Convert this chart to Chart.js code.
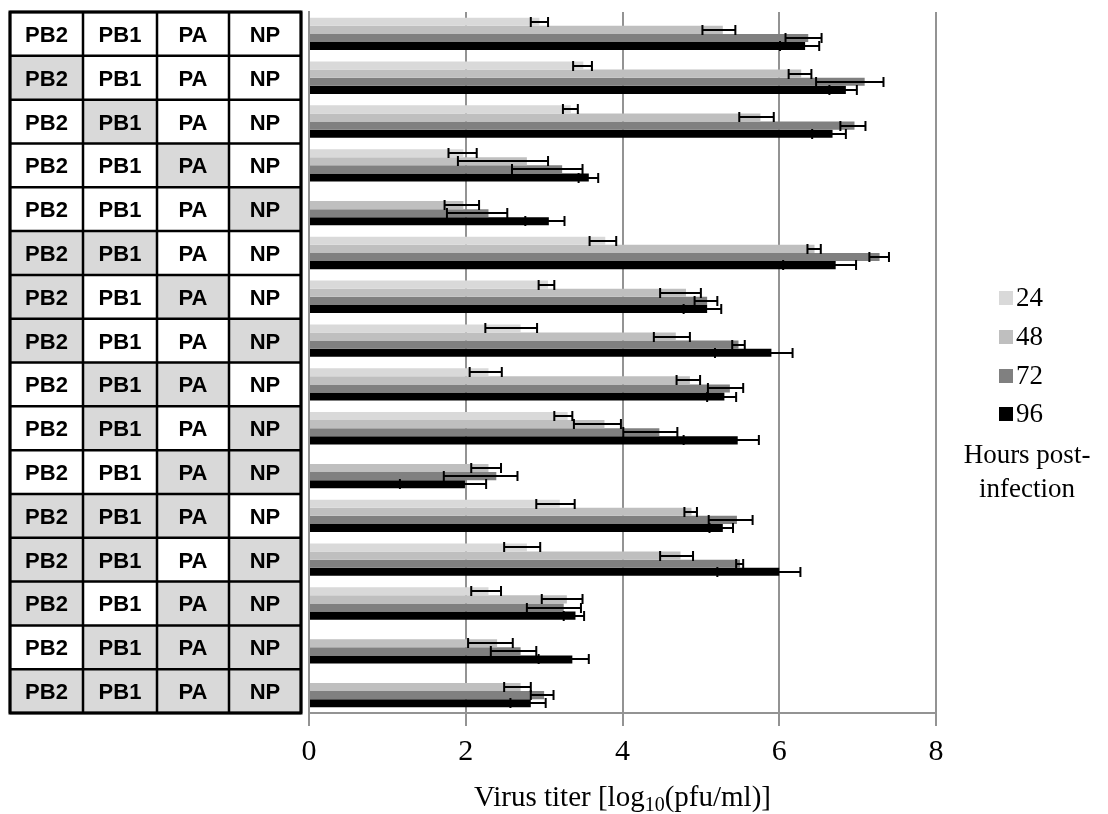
<!DOCTYPE html>
<html lang="en">
<head>
<meta charset="utf-8">
<title>Virus titer</title>
<script src="https://cdn.jsdelivr.net/npm/chart.js@4.4.0/dist/chart.umd.min.js"></script>
<style>
  html, body { margin: 0; padding: 0; background: #fff; }
</style>
</head>
<body>
<canvas id="titre" width="1108" height="814"></canvas>

<script>
    // segments of each row, 1 = shaded cell (PB2, PB1, PA, NP)
    var segments = ['PB2', 'PB1', 'PA', 'NP'];
    var shading = [
        [0, 0, 0, 0],
        [1, 0, 0, 0],
        [0, 1, 0, 0],
        [0, 0, 1, 0],
        [0, 0, 0, 1],
        [1, 1, 0, 0],
        [1, 0, 1, 0],
        [1, 0, 0, 1],
        [0, 1, 1, 0],
        [0, 1, 0, 1],
        [0, 0, 1, 1],
        [1, 1, 1, 0],
        [1, 1, 0, 1],
        [1, 0, 1, 1],
        [0, 1, 1, 1],
        [1, 1, 1, 1]
    ];
    var hours = ['24', '48', '72', '96'];
    var xTicks = [0, 2, 4, 6, 8];

    // titres log10(pfu/ml), one value per row
    var val24 = [2.94, 3.50, 3.34, 1.97, null, 3.78, 3.05, 2.70, 2.29, 3.30, null, 3.20, 2.78, 2.29, null, null];
    var lo24  = [2.83, 3.37, 3.24, 1.78, null, 3.58, 2.93, 2.25, 2.05, 3.13, null, 2.90, 2.49, 2.07, null, null];
    var hi24  = [3.05, 3.61, 3.43, 2.14, null, 3.92, 3.13, 2.91, 2.46, 3.36, null, 3.39, 2.95, 2.45, null, null];

    var val48 = [5.28, 6.28, 5.76, 2.78, 1.97, 6.45, 4.81, 4.68, 4.86, 3.77, 2.29, 4.88, 4.74, 3.29, 2.40, 2.70];
    var lo48  = [5.02, 6.12, 5.49, 1.90, 1.73, 6.36, 4.48, 4.40, 4.69, 3.38, 2.07, 4.79, 4.48, 2.97, 2.03, 2.49];
    var hi48  = [5.44, 6.41, 5.93, 3.05, 2.17, 6.53, 5.00, 4.86, 4.99, 3.98, 2.45, 4.95, 4.90, 3.49, 2.60, 2.83];

    var val72 = [6.37, 7.09, 6.96, 3.23, 2.29, 7.28, 5.08, 5.48, 5.37, 4.47, 2.39, 5.46, 5.50, 3.25, 2.70, 3.00];
    var lo72  = [6.08, 6.47, 6.78, 2.59, 1.76, 7.15, 4.92, 5.40, 5.09, 4.01, 1.72, 5.10, 5.45, 2.78, 2.32, 2.83];
    var hi72  = [6.54, 7.33, 7.10, 3.49, 2.53, 7.40, 5.21, 5.56, 5.54, 4.70, 2.66, 5.66, 5.54, 3.47, 2.90, 3.12];

    var val96 = [6.33, 6.85, 6.68, 3.57, 3.06, 6.72, 5.08, 5.90, 5.30, 5.47, 1.99, 5.28, 6.00, 3.40, 3.36, 2.83];
    var lo96  = [6.01, 6.64, 6.42, 3.44, 2.76, 6.05, 4.78, 5.18, 5.08, 4.78, 1.16, 5.11, 5.21, 3.25, 2.93, 2.57];
    var hi96  = [6.51, 6.99, 6.85, 3.69, 3.26, 6.98, 5.26, 6.17, 5.45, 5.74, 2.26, 5.41, 6.27, 3.51, 3.57, 3.02];

    var rowLabels = shading.map(function (row) {
        return segments.filter(function (s, k) { return row[k]; }).join('+') || 'none';
    });

    var couleurs = ['#d9d9d9', '#bfbfbf', '#808080', '#000000'];
    var serif = '"Liberation Serif", "Times New Roman", serif';
    var colEdges = [10, 83, 157, 229, 301];

    // error bars, drawn with the x scale
    var barresErreur = {
        id: 'barresErreur',
        afterDatasetsDraw: function (chart) {
            var c = chart.ctx, xs = chart.scales.x;
            c.save();
            c.strokeStyle = '#000';
            c.lineWidth = 2;
            chart.data.datasets.forEach(function (ds, i) {
                var meta = chart.getDatasetMeta(i);
                ds.lo.forEach(function (lo, j) {
                    var hi = ds.hi[j];
                    if (lo == null || hi == null) return;
                    var y = Math.round(meta.data[j].y);
                    var a = xs.getPixelForValue(lo), b = xs.getPixelForValue(hi);
                    c.beginPath();
                    c.moveTo(a, y); c.lineTo(b, y);
                    c.moveTo(a, y - 5); c.lineTo(a, y + 5);
                    c.moveTo(b, y - 5); c.lineTo(b, y + 5);
                    c.stroke();
                });
            });
            c.restore();
        }
    };

    // segment table on the left, one row per category
    var tableau = {
        id: 'tableau',
        afterDraw: function (chart) {
            var c = chart.ctx, ys = chart.scales.y;
            var n = chart.data.labels.length;
            var h = (ys.bottom - ys.top) / n;
            c.save();
            c.font = 'bold 22px "Liberation Sans", Arial, sans-serif';
            c.textAlign = 'center';
            c.textBaseline = 'alphabetic';
            shading.forEach(function (row, i) {
                var yc = ys.getPixelForValue(i);
                row.forEach(function (s, k) {
                    var x0 = colEdges[k], x1 = colEdges[k + 1];
                    c.fillStyle = s ? '#d9d9d9' : '#ffffff';
                    c.fillRect(x0, yc - h / 2, x1 - x0, h);
                    c.fillStyle = '#000';
                    c.fillText(segments[k], (x0 + x1) / 2, yc + 8);
                });
            });
            c.strokeStyle = '#000';
            c.lineWidth = 2.5;
            c.beginPath();
            for (var i = 0; i <= n; i++) {
                var y = ys.top + i * h;
                c.moveTo(colEdges[0], y); c.lineTo(colEdges[colEdges.length - 1], y);
            }
            colEdges.forEach(function (x) {
                c.moveTo(x, ys.top); c.lineTo(x, ys.bottom);
            });
            c.stroke();
            c.lineWidth = 3;
            c.strokeRect(colEdges[0], ys.top, colEdges[colEdges.length - 1] - colEdges[0], ys.bottom - ys.top);
            c.restore();
        }
    };

    // legend on the right and x axis title with subscript
    var legendeEtTitre = {
        id: 'legendeEtTitre',
        afterDraw: function (chart) {
            var c = chart.ctx, area = chart.chartArea;
            c.save();
            c.fillStyle = '#000';
            c.textBaseline = 'middle';
            c.font = '27px ' + serif;
            var ly = [298, 337, 376, 414];
            chart.data.datasets.forEach(function (ds, i) {
                c.fillStyle = ds.backgroundColor;
                c.fillRect(999, ly[i] - 7, 14, 14);
                c.fillStyle = '#000';
                c.textAlign = 'left';
                c.fillText(ds.label, 1016, ly[i] + 1);
            });
            c.textAlign = 'center';
            c.fillText('Hours post-', 1027, 456);
            c.fillText('infection', 1027, 490);

            // Virus titer [log10(pfu/ml)]
            var big = '29px ' + serif, small = '20px ' + serif;
            var p1 = 'Virus titer [log', p2 = '10', p3 = '(pfu/ml)]';
            c.font = big; var w1 = c.measureText(p1).width, w3 = c.measureText(p3).width;
            c.font = small; var w2 = c.measureText(p2).width;
            var x = (area.left + area.right) / 2 - (w1 + w2 + w3) / 2;
            var yb = 806;
            c.textAlign = 'left';
            c.textBaseline = 'alphabetic';
            c.font = big; c.fillText(p1, x, yb);
            c.font = small; c.fillText(p2, x + w1, yb + 5);
            c.font = big; c.fillText(p3, x + w1 + w2, yb);
            c.restore();
        }
    };

    function serie(label, data, lo, hi, couleur) {
        return {
            label: label,
            data: data,
            lo: lo,
            hi: hi,
            backgroundColor: couleur,
            borderWidth: 0,
            categoryPercentage: 0.74,
            barPercentage: 1.0
        };
    }

    var ctx = document.getElementById('titre').getContext('2d');
    var chart = new Chart(ctx, {
        type: 'bar',
        data: {
            labels: rowLabels,
            datasets: [
                serie(hours[0], val24, lo24, hi24, couleurs[0]),
                serie(hours[1], val48, lo48, hi48, couleurs[1]),
                serie(hours[2], val72, lo72, hi72, couleurs[2]),
                serie(hours[3], val96, lo96, hi96, couleurs[3])
            ]
        },
        options: {
            indexAxis: 'y',
            responsive: false,
            devicePixelRatio: 1,
            animation: false,
            layout: { padding: { left: 301, right: 172, top: 12, bottom: 36 } },
            plugins: {
                legend: { display: false },
                tooltip: { enabled: false }
            },
            scales: {
                x: {
                    min: xTicks[0],
                    max: xTicks[xTicks.length - 1],
                    afterBuildTicks: function (axis) {
                        axis.ticks = xTicks.map(function (v) { return { value: v }; });
                    },
                    ticks: {
                        color: '#000',
                        font: { family: serif, size: 30 },
                        padding: 8,
                        maxRotation: 0
                    },
                    grid: { color: '#939393', lineWidth: 2, tickLength: 13 },
                    border: { color: '#939393', width: 2 }
                },
                y: {
                    ticks: { display: false },
                    grid: { display: false },
                    border: { color: '#939393', width: 2 }
                }
            }
        },
        plugins: [barresErreur, tableau, legendeEtTitre]
    });
</script>
</body>
</html>
